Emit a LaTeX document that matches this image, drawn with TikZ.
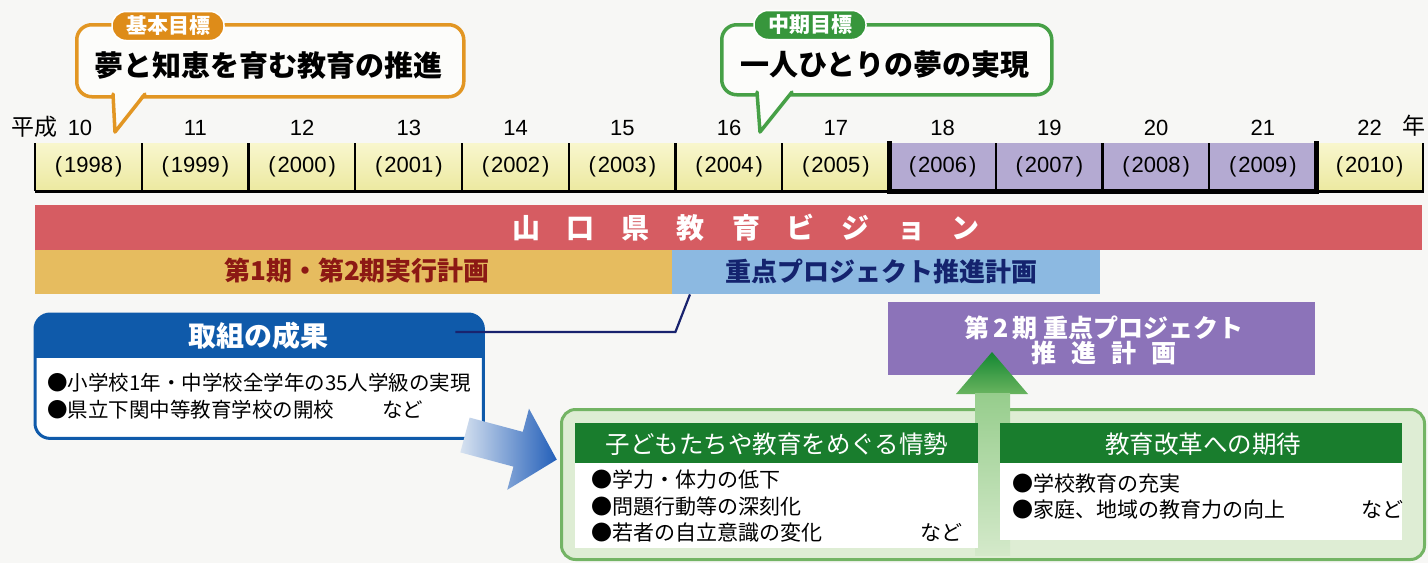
\documentclass[tikz,border=0pt]{standalone}
\usepackage{fontspec}
\setmainfont{Liberation Sans}
\newfontfamily\jp{Noto Sans CJK JP}
\usetikzlibrary{calc}
\newcommand\jfs[1]{\fontsize{#1}{#1}\selectfont}
\definecolor{bgc}{RGB}{247,247,245}
\definecolor{yel1}{RGB}{248,246,205}
\definecolor{yel2}{RGB}{236,233,160}
\definecolor{purc}{RGB}{180,170,210}
\definecolor{bubor}{RGB}{226,150,35}
\definecolor{pillor}{RGB}{222,140,25}
\definecolor{bubgr}{RGB}{70,160,70}
\definecolor{pillgr}{RGB}{55,150,60}
\definecolor{bubfill}{RGB}{252,252,250}
\definecolor{redc}{RGB}{214,92,98}
\definecolor{orc}{RGB}{230,188,95}
\definecolor{ortext}{RGB}{140,25,20}
\definecolor{bluec}{RGB}{140,185,225}
\definecolor{bluetext}{RGB}{20,35,110}
\definecolor{navyc}{RGB}{25,35,110}
\definecolor{resblue}{RGB}{15,90,170}
\definecolor{purb}{RGB}{140,115,185}
\definecolor{gfill}{RGB}{222,237,212}
\definecolor{gborder}{RGB}{115,180,100}
\definecolor{ghead}{RGB}{25,125,45}
\definecolor{garrd}{RGB}{20,135,50}
\definecolor{garrm}{RGB}{105,180,95}
\definecolor{garrs}{RGB}{150,205,140}
\definecolor{garrl}{RGB}{212,233,202}
\definecolor{arrl}{RGB}{215,226,240}
\definecolor{arrd}{RGB}{35,95,185}
\begin{document}
\begin{tikzpicture}[x=1pt,y=-1pt,
  ycell/.style={inner sep=0, anchor=north west, minimum width=106.75, minimum height=48, top color=yel1, bottom color=yel2, font=\jfs{22}},
  pcell/.style={inner sep=0, anchor=north west, minimum width=106.75, minimum height=48, fill=purc, font=\jfs{22}},
  yn/.style={inner sep=0, font=\jfs{22}},
  tl/.style={line width=2.2, black},
  bubble/.style={inner sep=0, anchor=north west, fill=bubfill, line width=3.5, rounded corners=15},
  pill/.style={rounded corners=14, minimum height=29, inner xsep=14, inner ysep=0, text=white, font=\jp\bfseries\jfs{21}, draw=white, line width=1.5},
  bar/.style={inner sep=0, anchor=north west},
  lbl/.style={inner sep=0},
  body/.style={inner sep=0, anchor=west, font=\jp\jfs{20.5}}
]
\useasboundingbox (0,0) rectangle (1428,563);
\fill[bgc] (0,0) rectangle (1428,563);

% ---- goal bubbles ----
\node[bubble, draw=bubor, minimum width=387, minimum height=72] (g1) at (75,23) {};
\fill[bubfill] (112.5,90) -- (114.5,128) -- (146,90) -- cycle;
\draw[bubor, line width=3.5, line join=round, line cap=round] (113,94) -- (115,132) -- (145,94);
\node[pill, fill=pillor] (t1) at (168,26) {基本目標};
\node[lbl, font=\jp\bfseries\jfs{29}] (g1t) at (268,66) {夢と知恵を育む教育の推進};

\node[bubble, draw=bubgr, minimum width=330, minimum height=70] (g2) at (720,23) {};
\fill[bubfill] (756.5,89) -- (759.5,128) -- (793,89) -- cycle;
\draw[bubgr, line width=3.5, line join=round, line cap=round] (757,92) -- (760,132) -- (792,92);
\node[pill, fill=pillgr] (t2) at (810,25) {中期目標};
\node[lbl, font=\jp\bfseries\jfs{29}] (g2t) at (885,65) {一人ひとりの夢の実現};

% ---- timeline ----
\foreach \i in {0,...,7,12}{
  \pgfmathtruncatemacro\yr{1998+\i}
  \pgfmathsetmacro\xx{35+106.75*\i}
  \node[ycell] (c\i) at (\xx,143) {(\kern2pt\yr\kern2pt)};
}
\foreach \i in {8,...,11}{
  \pgfmathtruncatemacro\yr{1998+\i}
  \pgfmathsetmacro\xx{35+106.75*\i}
  \node[pcell] (c\i) at (\xx,143) {(\kern2pt\yr\kern2pt)};
}
\foreach \i in {1,...,12}{
  \pgfmathtruncatemacro\hn{10+\i}
  \node[yn] (n\i) at ($(c\i.north)+(0,-15)$) {\hn};
}
\node[yn] (n0) at (80,128) {10};
\node[yn, font=\jp\jfs{23}] (heisei) at (35,127) {平成};
\node[yn, font=\jp\jfs{23}] (nen) at (1414,126) {年};

\foreach \i in {0,...,7,9,10,11}{
  \draw[tl] (c\i.north west) -- (c\i.south west);
}
\draw[tl] (c0.south west) -- (c8.south west);
\draw[tl] (c12.south west) -- (c12.south east) -- (c12.north east);
\draw[line width=5, black, line join=miter] ($(c8.north west)+(0,-2)$) -- ($(c8.south west)+(0,0.5)$) -- ($(c11.south east)+(0,0.5)$) -- ($(c11.north east)+(0,-2)$);

% ---- bars ----
\node[bar, fill=redc, minimum width=1387, minimum height=45] (vision) at (35,205) {};
\node[lbl, text=white, font=\jp\bfseries\jfs{28}] (visiont) at (746,228)
  {山\hspace{27pt}口\hspace{27pt}県\hspace{27pt}教\hspace{27pt}育\hspace{27pt}ビ\hspace{27pt}ジ\hspace{27pt}ョ\hspace{27pt}ン};
\node[bar, fill=orc, minimum width=637, minimum height=44] (plan1) at (35,250) {};
\node[lbl, text=ortext, font=\jp\bfseries\jfs{26}] (plan1t) at (357,271) {第1期・第2期実行計画};
\node[bar, fill=bluec, minimum width=428, minimum height=44] (proj) at (672,250) {};
\node[lbl, text=bluetext, font=\jp\bfseries\jfs{26}] (projt) at (881,271) {重点プロジェクト推進計画};

% ---- result box ----
\node[bar, fill=white, minimum width=448, minimum height=124, rounded corners=15] (result) at (35,314) {};
\begin{scope}
  \clip[rounded corners=15] (result.north west) rectangle (result.south east);
  \fill[resblue] (result.north west) rectangle ($(result.north east)+(0,44)$);
\end{scope}
\draw[resblue, line width=3, rounded corners=15] (result.north west) rectangle (result.south east);
\node[lbl, text=white, font=\jp\bfseries\jfs{28}] (resultt) at (258,336) {取組の成果};
\node[body] (r1) at (47,383) {●小学校1年・中学校全学年の35人学級の実現};
\node[body] (r2) at (47,410) {●県立下関中等教育学校の開校\hspace{48pt}など};

\draw[navyc, line width=2.2] ($(result.north east)+(-28,18)$) -- ($(result.north east)+(192,18)$) -- (690,0 |- proj.south);

% ---- second phase box ----
\node[bar, fill=purb, minimum width=427, minimum height=73] (proj2) at (888,302) {};
\node[lbl, text=white, font=\jp\bfseries\jfs{25}, align=center] (proj2t) at (1104,340)
  {\fontsize{25}{33}\selectfont 第\kern4pt 2\kern4pt 期 重点プロジェクト\\推\hspace{15pt}進\hspace{15pt}計\hspace{15pt}画};

% ---- blue arrow ----
\begin{scope}[shift={(465,435)}, rotate=-15]
  \shade[left color=arrl, right color=arrd] (0,-18) -- (55,-18) -- (55,-42) -- (95,0) -- (55,42) -- (55,18) -- (0,18) -- cycle;
\end{scope}

% ---- environment box ----
\node[bar, fill=gfill, draw=gborder, line width=3, rounded corners=14, minimum width=863, minimum height=150] (env) at (560,408) {};
\shade[top color=garrd, bottom color=garrm] (992,352) -- (1028,394) -- (956,394) -- cycle;
\shade[top color=garrs, bottom color=garrl] (975,393) rectangle (1010,555);

\node[bar, fill=ghead, minimum width=403, minimum height=40] (h1) at (575,423) {};
\node[bar, fill=white, minimum width=403, minimum height=85] (e1) at (575,463) {};
\node[lbl, text=white, font=\jp\jfs{24.5}] (h1t) at (777,444) {子どもたちや教育をめぐる情勢};
\node[body, font=\jp\jfs{21}] (e1a) at (591,480) {●学力・体力の低下};
\node[body, font=\jp\jfs{21}] (e1b) at (591,507) {●問題行動等の深刻化};
\node[body, font=\jp\jfs{21}] (e1c) at (591,533) {●若者の自立意識の変化\hspace{98pt}など};

\node[bar, fill=ghead, minimum width=402, minimum height=40] (h2) at (1000,423) {};
\node[bar, fill=white, minimum width=402, minimum height=77] (e2) at (1000,463) {};
\node[lbl, text=white, font=\jp\jfs{24.5}] (h2t) at (1203,444) {教育改革への期待};
\node[body, font=\jp\jfs{21}] (e2a) at (1012,483) {●学校教育の充実};
\node[body, font=\jp\jfs{21}] (e2b) at (1012,510) {●家庭、地域の教育力の向上\hspace{76pt}など};
\end{tikzpicture}
\end{document}
